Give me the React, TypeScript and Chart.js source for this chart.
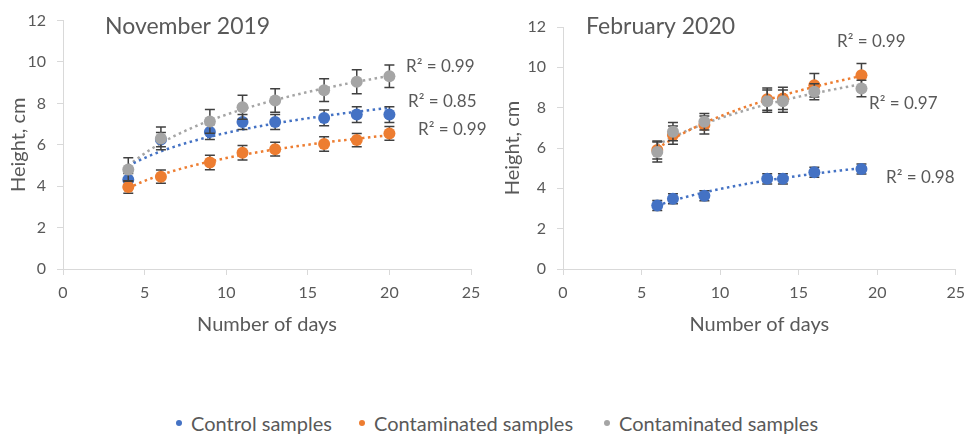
import React, { useEffect, useRef } from "react";
import { Chart, registerables } from "chart.js";

Chart.register(...registerables);

// ---------- data ----------
const SERIES_LABELS = ["Control samples", "Contaminated samples", "Contaminated samples"];
const SERIES_COLORS = ["#4472C4", "#ED7D31", "#A5A5A5"];

const NOV_TITLE = "November 2019";
const NOV_DAYS = [4, 6, 9, 11, 13, 16, 18, 20];
const NOV_CONTROL = [4.31, 6.25, 6.62, 7.1, 7.1, 7.3, 7.46, 7.46];
const NOV_CONTROL_ERR = [0.3, 0.35, 0.36, 0.36, 0.36, 0.38, 0.38, 0.38];
const NOV_CONTAM_A = [3.96, 4.46, 5.14, 5.62, 5.79, 6.04, 6.23, 6.55];
const NOV_CONTAM_A_ERR = [0.3, 0.32, 0.35, 0.35, 0.33, 0.35, 0.32, 0.33];
const NOV_CONTAM_B = [4.81, 6.31, 7.13, 7.81, 8.14, 8.64, 9.05, 9.31];
const NOV_CONTAM_B_ERR = [0.57, 0.55, 0.57, 0.58, 0.57, 0.55, 0.58, 0.54];
const NOV_R2 = ["R² = 0.85", "R² = 0.99", "R² = 0.99"];

const FEB_TITLE = "February 2020";
const FEB_DAYS = [6, 7, 9, 13, 14, 16, 19];
const FEB_CONTROL = [3.15, 3.48, 3.63, 4.47, 4.47, 4.8, 4.96];
const FEB_CONTROL_ERR = [0.25, 0.25, 0.25, 0.25, 0.25, 0.25, 0.25];
const FEB_CONTAM_A = [5.9, 6.64, 7.14, 8.42, 8.46, 9.11, 9.61];
const FEB_CONTAM_A_ERR = [0.45, 0.45, 0.45, 0.55, 0.55, 0.58, 0.58];
const FEB_CONTAM_B = [5.8, 6.81, 7.3, 8.32, 8.32, 8.79, 8.95];
const FEB_CONTAM_B_ERR = [0.5, 0.45, 0.41, 0.55, 0.55, 0.4, 0.41];
const FEB_R2 = ["R² = 0.98", "R² = 0.99", "R² = 0.97"];

const X_MIN = 0, X_MAX = 25, X_STEP = 5;
const Y_MIN = 0, Y_MAX = 12, Y_STEP = 2;
const X_TITLE = "Number of days";
const Y_TITLE = "Height, cm";

// ---------- style ----------
const TEXT = "#595959";
const AXIS = "#D9D9D9";
const ERR_COLOR = "#404040";
const FONT = "Lato, 'Noto Sans', sans-serif";

// logarithmic least-squares trendline (as Excel's "Logarithmic" trendline)
function logTrend(xs: number[], ys: number[]) {
  const n = xs.length;
  const lx = xs.map((x) => Math.log(x));
  const mx = lx.reduce((a, b) => a + b, 0) / n;
  const my = ys.reduce((a, b) => a + b, 0) / n;
  let sxy = 0, sxx = 0;
  for (let i = 0; i < n; i++) {
    sxy += (lx[i] - mx) * (ys[i] - my);
    sxx += (lx[i] - mx) * (lx[i] - mx);
  }
  const b = sxy / sxx;
  const a = my - b * mx;
  const x0 = Math.min(...xs), x1 = Math.max(...xs);
  const pts: { x: number; y: number }[] = [];
  const steps = 40;
  for (let i = 0; i <= steps; i++) {
    const x = x0 + ((x1 - x0) * i) / steps;
    pts.push({ x, y: a + b * Math.log(x) });
  }
  return pts;
}

const errorBarPlugin = {
  id: "errorBars",
  beforeDatasetDraw(chart: any, args: any) {
    const ds = chart.data.datasets[args.index];
    if (!ds.errors) return;
    const ctx = chart.ctx;
    const yScale = chart.scales.y;
    ctx.save();
    ctx.strokeStyle = ERR_COLOR;
    ctx.lineWidth = 1.5;
    args.meta.data.forEach((el: any, i: number) => {
      const v = ds.data[i].y;
      const e = ds.errors[i];
      const yt = yScale.getPixelForValue(v + e);
      const yb = yScale.getPixelForValue(v - e);
      const x = el.x;
      ctx.beginPath();
      ctx.moveTo(x, yt);
      ctx.lineTo(x, yb);
      ctx.moveTo(x - 5, yt);
      ctx.lineTo(x + 5, yt);
      ctx.moveTo(x - 5, yb);
      ctx.lineTo(x + 5, yb);
      ctx.stroke();
    });
    ctx.restore();
  },
};

const overlayPlugin = {
  id: "overlay",
  afterDraw(chart: any, _args: any, opts: any) {
    const ctx = chart.ctx;
    ctx.save();
    ctx.fillStyle = TEXT;
    ctx.textBaseline = "middle";
    ctx.textAlign = "left";
    ctx.font = `23px ${FONT}`;
    ctx.fillText(opts.title, opts.titleX, opts.titleY);
    ctx.font = `17px ${FONT}`;
    (opts.labels || []).forEach((l: any) => ctx.fillText(l.text, l.x, l.y));
    ctx.restore();
  },
};

interface PanelSpec {
  title: string;
  titleX: number;
  titleY: number;
  days: number[];
  values: number[][];
  errors: number[][];
  r2: string[];
  r2Pos: { x: number; y: number }[];
  top: number;
  left: number;
  right: number;
  bottom: number;
  height: number;
  yTitlePad: number;
}

function makeConfig(p: PanelSpec): any {
  const datasets: any[] = [];
  p.values.forEach((vals, i) => {
    datasets.push({
      label: SERIES_LABELS[i],
      data: p.days.map((d, j) => ({ x: d, y: vals[j] })),
      errors: p.errors[i],
      backgroundColor: SERIES_COLORS[i],
      borderColor: SERIES_COLORS[i],
      borderWidth: 0,
      pointRadius: 6,
      showLine: false,
      order: 2 - i,
    });
  });
  p.values.forEach((vals, i) => {
    datasets.push({
      label: "trend " + i,
      data: logTrend(p.days, vals),
      borderColor: SERIES_COLORS[i],
      borderWidth: 2.5,
      borderDash: [2.5, 3.5],
      pointRadius: 0,
      showLine: true,
      fill: false,
      order: 10 + i,
    });
  });
  return {
    type: "scatter",
    data: { datasets },
    plugins: [errorBarPlugin, overlayPlugin],
    options: {
      responsive: false,
      animation: false,
      devicePixelRatio: 1,
      layout: { padding: { top: p.top, right: p.right, left: 0, bottom: 0 } },
      plugins: {
        legend: { display: false },
        tooltip: { enabled: false },
        overlay: {
          title: p.title,
          titleX: p.titleX,
          titleY: p.titleY,
          labels: p.r2.map((t, i) => ({ text: t, x: p.r2Pos[i].x, y: p.r2Pos[i].y })),
        },
      },
      scales: {
        x: {
          type: "linear",
          min: X_MIN,
          max: X_MAX,
          ticks: { stepSize: X_STEP, color: TEXT, font: { family: FONT, size: 16 }, padding: 8 },
          grid: { drawOnChartArea: false, drawTicks: true, tickLength: 6, color: AXIS },
          border: { color: AXIS, width: 1 },
          title: {
            display: true,
            text: X_TITLE,
            color: TEXT,
            font: { family: FONT, size: 20 },
            padding: { top: 0, bottom: 3 },
          },
          afterFit: (s: any) => {
            s.height = p.height - p.bottom;
          },
        },
        y: {
          type: "linear",
          min: Y_MIN,
          max: Y_MAX,
          ticks: { stepSize: Y_STEP, color: TEXT, font: { family: FONT, size: 16 }, padding: 11 },
          grid: { drawOnChartArea: false, drawTicks: true, tickLength: 6, color: AXIS },
          border: { color: AXIS, width: 1 },
          title: {
            display: true,
            text: Y_TITLE,
            color: TEXT,
            font: { family: FONT, size: 20 },
            padding: { top: p.yTitlePad, bottom: 0 },
          },
          afterFit: (s: any) => {
            s.width = p.left;
          },
        },
      },
    },
  };
}

const LEFT_SPEC: PanelSpec = {
  title: NOV_TITLE,
  titleX: 105,
  titleY: 27,
  days: NOV_DAYS,
  values: [NOV_CONTROL, NOV_CONTAM_A, NOV_CONTAM_B],
  errors: [NOV_CONTROL_ERR, NOV_CONTAM_A_ERR, NOV_CONTAM_B_ERR],
  r2: NOV_R2,
  r2Pos: [
    { x: 408, y: 102 },
    { x: 418, y: 130 },
    { x: 406, y: 67 },
  ],
  top: 16,
  left: 63,
  right: 19,
  bottom: 269,
  height: 340,
  yTitlePad: 7,
};

const RIGHT_SPEC: PanelSpec = {
  title: FEB_TITLE,
  titleX: 96,
  titleY: 27,
  days: FEB_DAYS,
  values: [FEB_CONTROL, FEB_CONTAM_A, FEB_CONTAM_B],
  errors: [FEB_CONTROL_ERR, FEB_CONTAM_A_ERR, FEB_CONTAM_B_ERR],
  r2: FEB_R2,
  r2Pos: [
    { x: 396, y: 178 },
    { x: 347, y: 42 },
    { x: 379, y: 104 },
  ],
  top: 27,
  left: 73,
  right: 11,
  bottom: 269,
  height: 340,
  yTitlePad: 11,
};

// legend item anchor (dot centre) positions
const LEGEND_DOT_X = [179, 362, 607];

function Panel({ spec, x, width }: { spec: PanelSpec; x: number; width: number }) {
  const ref = useRef<HTMLCanvasElement>(null);
  useEffect(() => {
    if (!ref.current) return;
    const chart = new Chart(ref.current, makeConfig(spec));
    return () => chart.destroy();
  }, [spec]);
  return (
    <canvas
      ref={ref}
      width={width}
      height={spec.height}
      style={{ position: "absolute", left: x, top: 0, width, height: spec.height }}
    />
  );
}

export default function App() {
  return (
    <div
      style={{
        position: "fixed",
        left: 0,
        top: 0,
        width: 973,
        height: 441,
        background: "#fff",
        overflow: "hidden",
        fontFamily: FONT,
      }}
    >
      <Panel spec={LEFT_SPEC} x={0} width={490} />
      <Panel spec={RIGHT_SPEC} x={490} width={483} />
      {SERIES_LABELS.map((l, i) => (
        <div
          key={i}
          style={{
            position: "absolute",
            left: LEGEND_DOT_X[i] - 3,
            top: 411,
            height: 24,
            display: "flex",
            alignItems: "center",
            color: TEXT,
            fontSize: 20,
            whiteSpace: "nowrap",
          }}
        >
          <span
            style={{
              display: "inline-block",
              width: 6,
              height: 6,
              borderRadius: 3,
              background: SERIES_COLORS[i],
              marginRight: 9,
            }}
          />
          <span>{l}</span>
        </div>
      ))}
    </div>
  );
}
